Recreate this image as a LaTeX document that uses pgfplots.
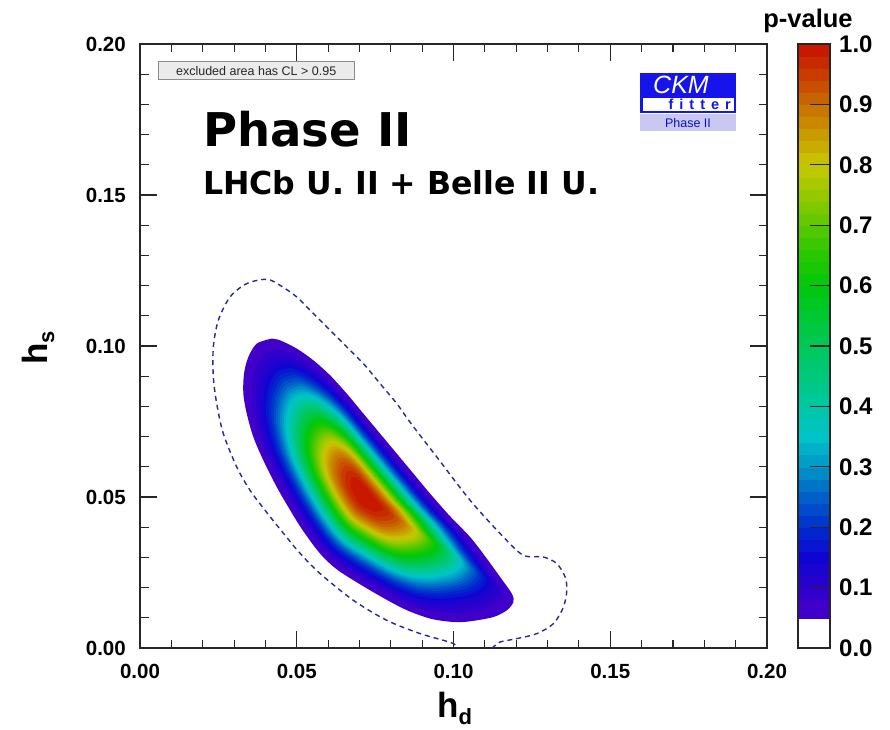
\documentclass[border=0pt]{standalone}
\usepackage{fontspec}
\setmainfont{Liberation Sans}
\newfontfamily\djv{DejaVu Sans}
\usepackage{pgfplots}
\usepackage{pgfplotstable}
\pgfplotsset{compat=1.18}

\definecolor{a05}{RGB}{72,0,200}
\definecolor{a10}{RGB}{45,0,205}
\definecolor{a15}{RGB}{15,5,210}
\definecolor{a20}{RGB}{0,45,205}
\definecolor{a25}{RGB}{0,95,200}
\definecolor{a30}{RGB}{0,150,200}
\definecolor{a35}{RGB}{0,195,200}
\definecolor{a40}{RGB}{0,200,165}
\definecolor{a45}{RGB}{0,200,125}
\definecolor{a50}{RGB}{0,200,90}
\definecolor{a55}{RGB}{0,200,50}
\definecolor{a60}{RGB}{0,200,10}
\definecolor{a65}{RGB}{40,200,0}
\definecolor{a70}{RGB}{90,200,0}
\definecolor{a75}{RGB}{150,200,0}
\definecolor{a80}{RGB}{200,200,0}
\definecolor{a85}{RGB}{200,155,0}
\definecolor{a90}{RGB}{200,110,0}
\definecolor{a95}{RGB}{200,60,0}
\definecolor{a100}{RGB}{200,15,0}
\definecolor{ckmblue}{RGB}{20,20,235}
\definecolor{lav}{RGB}{200,200,240}
\definecolor{dashc}{RGB}{40,40,150}

% outer boundary of the p > 0.05 region
\pgfplotstableread{
x y
0.04202 0.10245
0.04467 0.10189
0.05000 0.09914
0.05530 0.09526
0.06063 0.09030
0.06595 0.08424
0.07125 0.07762
0.07658 0.07099
0.08191 0.06437
0.08721 0.05775
0.09253 0.05113
0.09892 0.04361
0.10530 0.03675
0.11008 0.03036
0.11487 0.02351
0.11860 0.01801
0.11911 0.01523
0.11701 0.01248
0.11273 0.01026
0.10530 0.00884
0.09997 0.00861
0.09253 0.00974
0.08401 0.01305
0.07339 0.01911
0.06318 0.02573
0.05744 0.03126
0.05169 0.03930
0.04754 0.04626
0.04362 0.05331
0.03934 0.06215
0.03615 0.06987
0.03405 0.07762
0.03296 0.08424
0.03318 0.09086
0.03456 0.09636
0.03724 0.10079
0.04202 0.10245
}\blob

% dashed contour
\pgfplotstableread{
x y
0.1021 -0.0014
0.09997 0.00146
0.08934 0.00477
0.07872 0.00917
0.06806 0.01579
0.05744 0.02464
0.05105 0.03136
0.04627 0.03732
0.03989 0.04560
0.03510 0.05222
0.03086 0.05993
0.02658 0.07099
0.02447 0.08093
0.02339 0.08974
0.02339 0.09967
0.02498 0.10851
0.02872 0.11623
0.03405 0.12066
0.04043 0.12209
0.04467 0.12010
0.05000 0.11623
0.05530 0.11073
0.06063 0.10520
0.06595 0.09967
0.07125 0.09417
0.07658 0.08755
0.08191 0.08093
0.08647 0.07430
0.09467 0.06325
0.10530 0.04891
0.11592 0.03675
0.12230 0.03070
0.12869 0.03013
0.13296 0.02795
0.13561 0.02351
0.13615 0.01911
0.13507 0.01358
0.13188 0.00808
0.12658 0.00477
0.12020 0.00311
0.11487 0.00199
0.11273 0.00033
0.11104 -0.0014
}\dashc

\newcommand{\cx}{0.0718}
\newcommand{\cy}{0.0502}
\newcommand{\lvl}[2]{\addplot[draw=none, fill=#2, smooth, tension=0.5] table[x expr={\cx+#1*(\thisrow{x}-\cx)}, y expr={\cy+#1*(\thisrow{y}-\cy)}] {\blob};}
\newcommand{\cb}[3]{\addplot[draw=#3, line width=0.6pt, fill=#3] coordinates {(0,#1) (1,#1) (1,#2) (0,#2)};}

\begin{document}
\begin{tikzpicture}
\useasboundingbox (0pt,0pt) rectangle (890pt,729pt);
\begin{axis}[
  at={(140pt,81pt)}, anchor=south west,
  scale only axis, width=627pt, height=604pt,
  xmin=0, xmax=0.2, ymin=0, ymax=0.2,
  xtick={0,0.05,0.1,0.15,0.2}, ytick={0,0.05,0.1,0.15,0.2},
  minor tick num=4, scaled ticks=false,
  major tick length=17pt, minor tick length=8.5pt,
  tick style={line width=1.1pt, black!85},
  axis line style={line width=1.2pt, black!85},
  tick label style={font=\fontsize{20.5}{20.5}\selectfont\bfseries, inner sep=0pt},
  xticklabel style={yshift=-16pt},
  yticklabel style={xshift=-14pt},
  /pgf/number format/fixed, /pgf/number format/fixed zerofill,
  /pgf/number format/precision=2, /pgf/number format/assume math mode=true,
]
\lvl{1.0}{a05!70!a10}
\lvl{0.93083}{a05!20!a10}
\lvl{0.89537}{a10!80!a15}
\lvl{0.86487}{a10!40!a15}
\lvl{0.83788}{a15}
\lvl{0.81349}{a15!60!a20}
\lvl{0.79110}{a15!20!a20}
\lvl{0.77032}{a20!80!a25}
\lvl{0.75082}{a20!40!a25}
\lvl{0.73238}{a25}
\lvl{0.71484}{a25!60!a30}
\lvl{0.69806}{a25!20!a30}
\lvl{0.68191}{a30!80!a35}
\lvl{0.66631}{a30!40!a35}
\lvl{0.65120}{a35}
\lvl{0.63648}{a35!60!a40}
\lvl{0.62210}{a35!20!a40}
\lvl{0.60803}{a40!80!a45}
\lvl{0.59422}{a40!40!a45}
\lvl{0.58062}{a45}
\lvl{0.56720}{a45!60!a50}
\lvl{0.55393}{a45!20!a50}
\lvl{0.54078}{a50!80!a55}
\lvl{0.52772}{a50!40!a55}
\lvl{0.51470}{a55}
\lvl{0.50171}{a55!60!a60}
\lvl{0.48874}{a55!20!a60}
\lvl{0.47571}{a60!80!a65}
\lvl{0.46264}{a60!40!a65}
\lvl{0.44949}{a65}
\lvl{0.43619}{a65!60!a70}
\lvl{0.42274}{a65!20!a70}
\lvl{0.40910}{a70!80!a75}
\lvl{0.39521}{a70!40!a75}
\lvl{0.38101}{a75}
\lvl{0.36645}{a75!60!a80}
\lvl{0.35146}{a75!20!a80}
\lvl{0.33596}{a80!80!a85}
\lvl{0.31981}{a80!40!a85}
\lvl{0.30288}{a85}
\lvl{0.28499}{a85!60!a90}
\lvl{0.26587}{a85!20!a90}
\lvl{0.24514}{a90!80!a95}
\lvl{0.22218}{a90!40!a95}
\lvl{0.19603}{a95}
\lvl{0.16462}{a95!60!a100}
\lvl{0.12250}{a95!20!a100}
\addplot[color=dashc, line width=1.4pt, dash pattern=on 5pt off 4pt, smooth, tension=0.5] table {\dashc};
\end{axis}

\begin{axis}[
  at={(798pt,81pt)}, anchor=south west,
  scale only axis, width=32pt, height=604pt,
  xmin=0, xmax=1, ymin=0, ymax=1,
  xtick=\empty, ytick={0,0.1,0.2,0.3,0.4,0.5,0.6,0.7,0.8,0.9,1.0},
  ytick pos=right, yticklabel pos=right, tick align=inside,
  major tick length=20pt, axis on top,
  tick style={line width=1.1pt, black!85},
  axis line style={line width=1.2pt, black!85},
  tick label style={font=\fontsize{24}{24}\selectfont\bfseries, inner sep=0pt},
  yticklabel style={xshift=9pt},
  /pgf/number format/fixed, /pgf/number format/fixed zerofill,
  /pgf/number format/precision=1, /pgf/number format/assume math mode=true,
]
\cb{0}{0.05}{white}
\cb{0.05}{0.08}{a05!70!a10}
\cb{0.08}{0.10}{a05!20!a10}
\cb{0.10}{0.12}{a10!80!a15}
\cb{0.12}{0.14}{a10!40!a15}
\cb{0.14}{0.16}{a15}
\cb{0.16}{0.18}{a15!60!a20}
\cb{0.18}{0.20}{a15!20!a20}
\cb{0.20}{0.22}{a20!80!a25}
\cb{0.22}{0.24}{a20!40!a25}
\cb{0.24}{0.26}{a25}
\cb{0.26}{0.28}{a25!60!a30}
\cb{0.28}{0.30}{a25!20!a30}
\cb{0.30}{0.32}{a30!80!a35}
\cb{0.32}{0.34}{a30!40!a35}
\cb{0.34}{0.36}{a35}
\cb{0.36}{0.38}{a35!60!a40}
\cb{0.38}{0.40}{a35!20!a40}
\cb{0.40}{0.42}{a40!80!a45}
\cb{0.42}{0.44}{a40!40!a45}
\cb{0.44}{0.46}{a45}
\cb{0.46}{0.48}{a45!60!a50}
\cb{0.48}{0.50}{a45!20!a50}
\cb{0.50}{0.52}{a50!80!a55}
\cb{0.52}{0.54}{a50!40!a55}
\cb{0.54}{0.56}{a55}
\cb{0.56}{0.58}{a55!60!a60}
\cb{0.58}{0.60}{a55!20!a60}
\cb{0.60}{0.62}{a60!80!a65}
\cb{0.62}{0.64}{a60!40!a65}
\cb{0.64}{0.66}{a65}
\cb{0.66}{0.68}{a65!60!a70}
\cb{0.68}{0.70}{a65!20!a70}
\cb{0.70}{0.72}{a70!80!a75}
\cb{0.72}{0.74}{a70!40!a75}
\cb{0.74}{0.76}{a75}
\cb{0.76}{0.78}{a75!60!a80}
\cb{0.78}{0.80}{a75!20!a80}
\cb{0.80}{0.82}{a80!80!a85}
\cb{0.82}{0.84}{a80!40!a85}
\cb{0.84}{0.86}{a85}
\cb{0.86}{0.88}{a85!60!a90}
\cb{0.88}{0.90}{a85!20!a90}
\cb{0.90}{0.92}{a90!80!a95}
\cb{0.92}{0.94}{a90!40!a95}
\cb{0.94}{0.96}{a95}
\cb{0.96}{0.98}{a95!60!a100}
\cb{0.98}{1.00}{a95!20!a100}
\end{axis}

% excluded-area box
\node[draw=black!45, fill=black!8, line width=0.7pt, minimum width=195.7pt, minimum height=18.3pt, inner sep=0pt,
  font=\fontsize{12.5}{12.5}\selectfont, text=black!85] at (256.2pt,658.4pt) {excluded area has CL > 0.95};

% titles
\node[anchor=base west, inner sep=0pt, font=\djv\bfseries\fontsize{46.5}{46.5}\selectfont] at (203pt,582pt) {Phase II};
\node[anchor=base west, inner sep=0pt, font=\djv\bfseries\fontsize{31.6}{31.6}\selectfont] at (203pt,534pt) {LHCb U. II + Belle II U.};

% CKMfitter logo
\fill[ckmblue] (640pt,616.3pt) rectangle (736pt,655.7pt);
\fill[white] (643pt,618.3pt) rectangle (734pt,631pt);
\node[anchor=base, inner sep=0pt, text=white, font=\itshape\fontsize{25}{25}\selectfont] at (681pt,635pt) {CKM};
\node[anchor=base east, inner sep=0pt, text=ckmblue, font=\bfseries\fontsize{14.5}{14.5}\selectfont] at (731pt,619.5pt) {f\hspace{6pt}i\hspace{6pt}t\hspace{6pt}t\hspace{6pt}e\hspace{6pt}r};
\fill[lav] (640pt,598.3pt) rectangle (736pt,615pt);
\node[anchor=base, inner sep=0pt, text=ckmblue!80!black, font=\fontsize{12.5}{12.5}\selectfont] at (688pt,601pt) {Phase II};

% axis titles
\node[anchor=base west, inner sep=0pt, font=\bfseries\fontsize{35}{35}\selectfont] at (437pt,12pt) {h\raisebox{-7pt}{\fontsize{22}{22}\selectfont d}};
\node[anchor=base west, rotate=90, inner sep=0pt, font=\bfseries\fontsize{35}{35}\selectfont] at (47pt,364pt) {h\raisebox{-7pt}{\fontsize{22}{22}\selectfont s}};
\node[anchor=base, inner sep=0pt, font=\bfseries\fontsize{25.5}{25.5}\selectfont] at (808pt,701pt) {p-value};
\end{tikzpicture}
\end{document}
